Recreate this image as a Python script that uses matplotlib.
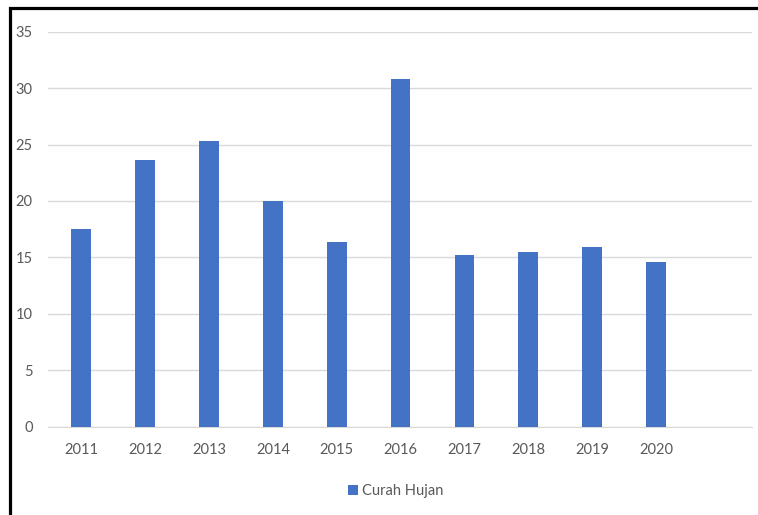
import matplotlib.pyplot as plt
from matplotlib.patches import Rectangle

years = ['2011', '2012', '2013', '2014', '2015', '2016', '2017', '2018', '2019', '2020']
curah_hujan = [17.5, 23.6, 25.3, 20.0, 16.4, 30.8, 15.2, 15.45, 15.9, 14.6]
yticks = [0, 5, 10, 15, 20, 25, 30, 35]

plt.rcParams['font.family'] = ['Lato', 'DejaVu Sans']

fig = plt.figure(figsize=(7.58, 5.15), dpi=100)
ax = fig.add_axes([0.0633, 0.1715, 0.9287, 0.767])

x = list(range(len(years)))
ax.bar(x, curah_hujan, width=0.31, color='#4472C4', label='Curah Hujan', zorder=3)

# one empty category slot after 2020, like the original
ax.set_xlim(-0.52, len(years) + 0.5)
ax.set_ylim(0, 35)
ax.set_xticks(x)
ax.set_xticklabels(years)
ax.set_yticks(yticks)
ax.grid(axis='y', color='#d9d9d9', linewidth=1.0, zorder=0)
ax.tick_params(length=0, labelsize=10.5, labelcolor='#595959')
ax.tick_params(axis='x', pad=12)
ax.tick_params(axis='y', pad=11)
for s in ['top', 'right', 'left']:
    ax.spines[s].set_visible(False)
ax.spines['bottom'].set_color('#d9d9d9')

leg = fig.legend(loc='center', bbox_to_anchor=(0.522, 0.046), frameon=False,
                 fontsize=10.5, handlelength=0.7, handleheight=0.7, handletextpad=0.3)
for t in leg.get_texts():
    t.set_color('#595959')

# black frame at top and left edges
fig.patches.append(Rectangle((10 / 758, -0.1), 1.2, 1.1 - 8 / 515,
                             transform=fig.transFigure, fill=False,
                             edgecolor='black', linewidth=2.3))

fig.savefig('out.png', dpi=100)
